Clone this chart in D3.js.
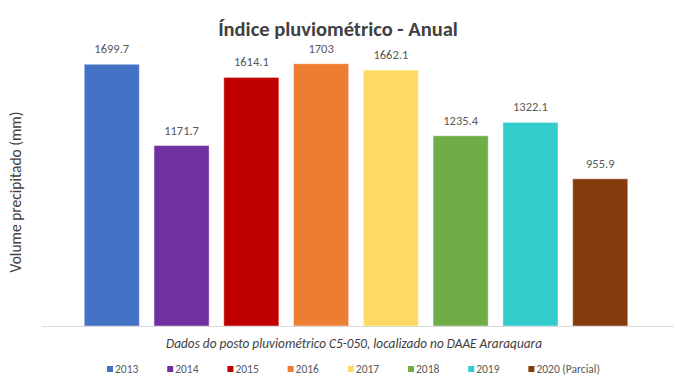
<!DOCTYPE html>
<html>
<head>
<meta charset="utf-8">
<script src="https://cdn.jsdelivr.net/npm/d3@7"></script>
<style>
  body { margin: 0; background: #fff; }
  text { font-family: Carlito, "Liberation Sans Narrow", "Open Sans", sans-serif; }
</style>
</head>
<body>
<div id="graphic"></div>
<script>
// anos e valores
var years = ['2013', '2014', '2015', '2016', '2017', '2018', '2019', '2020 (Parcial)'];
var volumes = [1699.7, 1171.7, 1614.1, 1703, 1662.1, 1235.4, 1322.1, 955.9];
var colors = ['#4472C4', '#7030A0', '#C00000', '#ED7D31', '#FFD966', '#70AD47', '#33CCCC', '#843C0C'];

(function () {
  var width = 677;
  var height = 385;

  var svg = d3.select('#graphic')
    .append('svg')
    .attr('width', width)
    .attr('height', height)

  var x = d3.scaleBand()
    .domain(years)
    .range([42, 670])
    .paddingInner(0.21)
    .paddingOuter(0.605)

  var y = d3.scaleLinear()
    .domain([0, 2000])
    .range([326, 18])

  // titulo
  svg.append('text')
    .attr('x', 338)
    .attr('y', 36)
    .attr('text-anchor', 'middle')
    .style('font-size', '20.5px')
    .style('font-weight', 'bold')
    .style('fill', '#404040')
    .text('Índice pluviométrico - Anual')

  // barras
  svg.selectAll('.bar')
    .data(years)
    .enter().append('rect')
    .attr('class', 'bar')
    .attr('x', d => x(d))
    .attr('width', x.bandwidth())
    .attr('y', (d, i) => y(volumes[i]))
    .attr('height', (d, i) => y(0) - y(volumes[i]))
    .style('fill', (d, i) => colors[i])
    .style('stroke', 'rgba(255,255,255,0.45)')
    .style('stroke-width', 1)

  svg.selectAll('.label')
    .data(years)
    .enter().append('text')
    .attr('class', 'label')
    .attr('x', d => x(d) + x.bandwidth() / 2)
    .attr('y', (d, i) => y(volumes[i]) - 11)
    .attr('text-anchor', 'middle')
    .style('font-size', '12.5px')
    .style('fill', '#595959')
    .text((d, i) => volumes[i])

  // linha do eixo
  var xAxis = svg.append('g')
    .attr('transform', 'translate(0,' + y(0) + ')')
    .call(d3.axisBottom(x).tickSize(0).tickFormat(''))
  xAxis.select('.domain').attr('stroke', '#D9D9D9').attr('d', 'M42,0.5H674')

  svg.append('text')
    .attr('transform', 'translate(21,192) rotate(-90)')
    .attr('text-anchor', 'middle')
    .style('font-size', '15.5px')
    .style('fill', '#404040')
    .text('Volume precipitado (mm)')

  svg.append('text')
    .attr('x', 354)
    .attr('y', 348)
    .attr('text-anchor', 'middle')
    .style('font-size', '13.3px')
    .style('font-style', 'italic')
    .style('fill', '#404040')
    .text('Dados do posto pluviométrico C5-050, localizado no DAAE Araraquara')

  // legenda
  var legend = svg.selectAll('.legend')
    .data(years)
    .enter().append('g')
    .attr('class', 'legend')
    .attr('transform', (d, i) => 'translate(' + (107 + i * 60.2) + ',369)')

  legend.append('rect')
    .attr('x', 0)
    .attr('y', -3)
    .attr('width', 6)
    .attr('height', 6)
    .style('fill', (d, i) => colors[i])

  legend.append('text')
    .attr('x', 8)
    .attr('y', 4)
    .style('font-size', '11.5px')
    .style('fill', '#595959')
    .text(d => d)
})()
</script>
</body>
</html>
